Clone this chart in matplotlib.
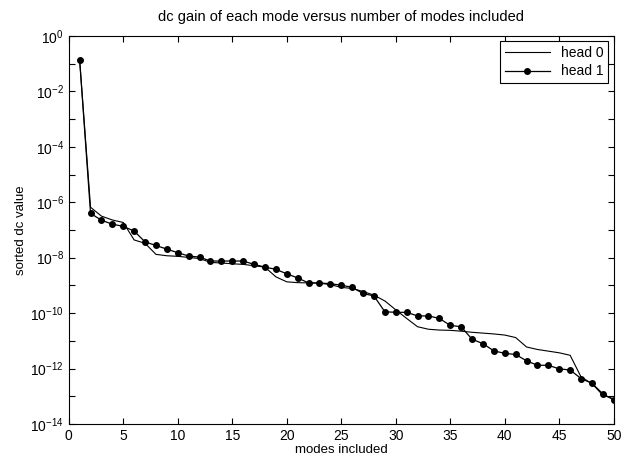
import numpy as np
import matplotlib
matplotlib.use("Agg")
import matplotlib.pyplot as plt

plt.rcParams['font.family'] = ['Liberation Sans', 'DejaVu Sans']
plt.rcParams['mathtext.default'] = 'regular'

# modes 1..50
modes = np.arange(1, 51)

# log10 of sorted dc values
head0_log = [-0.87, -6.18, -6.50, -6.64, -6.73, -7.36, -7.48, -7.88, -7.93, -7.95,
             -7.99, -8.03, -8.17, -8.19, -8.22, -8.24, -8.29, -8.34, -8.69, -8.87,
             -8.90, -8.91, -8.92, -8.97, -9.07, -9.11, -9.22, -9.35, -9.56, -9.88,
             -10.19, -10.49, -10.58, -10.61, -10.62, -10.65, -10.69, -10.72, -10.75, -10.79,
             -10.88, -11.22, -11.31, -11.37, -11.43, -11.52, -12.30, -12.54, -12.96, -13.09]
head1_log = [-0.87, -6.40, -6.65, -6.79, -6.87, -7.04, -7.43, -7.56, -7.69, -7.82,
             -7.94, -7.98, -8.12, -8.12, -8.12, -8.12, -8.24, -8.34, -8.42, -8.58,
             -8.73, -8.91, -8.91, -8.94, -8.99, -9.07, -9.29, -9.38, -9.95, -9.97,
             -9.97, -10.10, -10.10, -10.19, -10.44, -10.49, -10.94, -11.10, -11.36, -11.45,
             -11.49, -11.72, -11.88, -11.88, -12.01, -12.05, -12.36, -12.53, -12.91, -13.13]

head0 = 10.0 ** np.array(head0_log)
head1 = 10.0 ** np.array(head1_log)

fig = plt.figure(figsize=(6.25, 4.66), dpi=100)
ax = fig.add_axes([0.110, 0.090, 0.872, 0.833])

ax.semilogy(modes, head0, color='black', linewidth=0.8, label='head 0')
ax.semilogy(modes, head1, color='black', linewidth=0.9, marker='o',
            markersize=4, label='head 1')

ax.set_xlim(0, 50)
ax.set_ylim(1e-14, 1e0)
ax.set_xticks(np.arange(0, 51, 5))
decades = np.arange(-14, 1)
ax.set_yticks(10.0 ** decades)
ax.set_yticklabels(['$10^{%d}$' % d if d % 2 == 0 else '' for d in decades])
ax.minorticks_off()
ax.tick_params(direction='in', top=True, right=True, labelsize=10, length=4, width=0.8)
for s in ax.spines.values():
    s.set_linewidth(0.8)

ax.set_title('dc gain of each mode versus number of modes included', fontsize=10.5, pad=11)
ax.set_xlabel('modes included', fontsize=9.5, labelpad=1)
ax.set_ylabel('sorted dc value', fontsize=9.5, labelpad=2)

leg = ax.legend(loc='upper right', fontsize=10, fancybox=False, framealpha=1,
                edgecolor='black', borderaxespad=0.4, handlelength=3.2,
                labelspacing=0.3, borderpad=0.35)
leg.get_frame().set_linewidth(0.8)

fig.savefig('out.png', dpi=100)
